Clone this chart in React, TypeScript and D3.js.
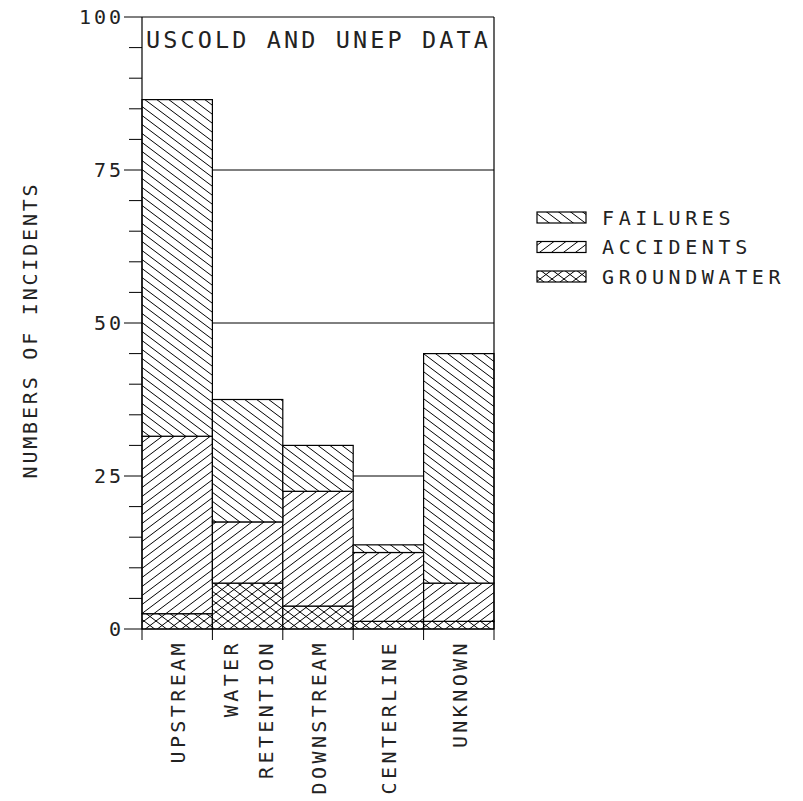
import React from "react";
import * as d3 from "d3";

const categories: string[][] = [["UPSTREAM"], ["WATER", "RETENTION"], ["DOWNSTREAM"], ["CENTERLINE"], ["UNKNOWN"]];
const groundwater = [2.5, 7.5, 3.75, 1.25, 1.25];
const accidents = [29, 10, 18.75, 11.25, 6.25];
const failures = [55, 20, 7.5, 1.25, 37.5];
const seriesKeys = ["groundwater", "accidents", "failures"];
const legendLabels = ["FAILURES", "ACCIDENTS", "GROUNDWATER"];
const legendKeys = ["failures", "accidents", "groundwater"];
const majorTicks = [0, 25, 50, 75, 100];
const gridValues = [25, 50, 75];
const title = "USCOLD AND UNEP DATA";
const yLabel = "NUMBERS OF INCIDENTS";

const FONT = "'DejaVu Sans Mono', monospace";
const TXT = "#222";

export default function App() {
  const W = 803, H = 801;
  const left = 142, right = 494, top = 17, bottom = 629;
  const y = d3.scaleLinear().domain([0, 100]).range([bottom, top]);
  const idx = categories.map((_, i) => i);
  const x = d3.scaleBand<number>().domain(idx).range([left, right]).padding(0);
  const rows = idx.map((i) => ({ groundwater: groundwater[i], accidents: accidents[i], failures: failures[i] }));
  const stacked = d3.stack<any>().keys(seriesKeys)(rows);
  const minor = d3.range(0, 101, 5);
  const fs = 20;
  const ls = 3;

  const patFill: Record<string, string> = {
    failures: "url(#patF)",
    accidents: "url(#patA)",
    groundwater: "url(#patG)",
  };

  const back = "M0,0L12,9 M-2,7.5L2,10.5 M10,-1.5L14,1.5";
  const fwd = "M0,9L12,0 M-2,1.5L2,-1.5 M10,10.5L14,7.5";

  return (
    <svg width={W} height={H} style={{ position: "absolute", left: 0, top: 0, background: "#fff" }}>
      <defs>
        <pattern id="patF" patternUnits="userSpaceOnUse" width={12} height={9}>
          <rect width={12} height={9} fill="#fff" />
          <path d={back} stroke="#000" strokeWidth={1} fill="none" />
        </pattern>
        <pattern id="patA" patternUnits="userSpaceOnUse" width={12} height={9}>
          <rect width={12} height={9} fill="#fff" />
          <path d={fwd} stroke="#000" strokeWidth={1} fill="none" />
        </pattern>
        <pattern id="patG" patternUnits="userSpaceOnUse" width={12} height={9}>
          <rect width={12} height={9} fill="#fff" />
          <path d={back} stroke="#000" strokeWidth={1} fill="none" />
          <path d={fwd} stroke="#000" strokeWidth={1} fill="none" />
        </pattern>
      </defs>

      {gridValues.map((v) => (
        <line key={"g" + v} x1={left} x2={right} y1={y(v)} y2={y(v)} stroke="#000" strokeWidth={1} />
      ))}

      {stacked.map((s) => (
        <g key={s.key}>
          {s.map((d, i) => (
            <rect
              key={i}
              x={x(i)!}
              width={x.bandwidth()}
              y={y(d[1])}
              height={y(d[0]) - y(d[1])}
              fill={patFill[s.key]}
              stroke="#000"
              strokeWidth={1.2}
            />
          ))}
        </g>
      ))}

      <line x1={left} x2={left} y1={top} y2={bottom} stroke="#000" strokeWidth={1.2} />
      <line x1={right} x2={right} y1={top} y2={bottom} stroke="#000" strokeWidth={1.2} />
      <line x1={left} x2={right} y1={top} y2={top} stroke="#000" strokeWidth={1.2} />
      <line x1={left} x2={right} y1={bottom} y2={bottom} stroke="#000" strokeWidth={1.2} />

      {minor.map((v) => (
        <line
          key={"t" + v}
          x1={majorTicks.includes(v) ? left - 18 : left - 13}
          x2={left}
          y1={y(v)}
          y2={y(v)}
          stroke="#000"
          strokeWidth={1}
        />
      ))}
      {majorTicks.map((v) => (
        <text
          key={"l" + v}
          x={121 + ls}
          y={y(v) + 7}
          textAnchor="end"
          fontFamily={FONT}
          fontSize={fs}
          letterSpacing={ls}
          fill={TXT}
        >
          {v}
        </text>
      ))}

      {idx.concat([idx.length]).map((i) => {
        const xx = i < idx.length ? x(i)! : right;
        return <line key={"b" + i} x1={xx} x2={xx} y1={bottom} y2={bottom + 11} stroke="#000" strokeWidth={1} />;
      })}

      {categories.map((lines, i) => {
        const cx = x(i)! + x.bandwidth() / 2;
        const n = lines.length;
        return lines.map((t, j) => {
          const bx = cx + 8 + (j - (n - 1) / 2) * 35;
          return (
            <text
              key={"c" + i + j}
              transform={`translate(${bx},${643 - ls}) rotate(-90)`}
              textAnchor="end"
              fontFamily={FONT}
              fontSize={fs}
              letterSpacing={ls + 0.4}
              fill={TXT}
            >
              {t}
            </text>
          );
        });
      })}

      <text
        transform={`translate(37,330) rotate(-90)`}
        textAnchor="middle"
        fontFamily={FONT}
        fontSize={fs}
        letterSpacing={ls - 0.2}
        fill={TXT}
      >
        {yLabel}
      </text>

      <text x={146} y={48} fontFamily={FONT} fontSize={23.5} letterSpacing={3.1} fill={TXT}>
        {title}
      </text>

      {legendKeys.map((k, i) => {
        const yy = 212 + i * 29.5;
        return (
          <g key={"lg" + k}>
            <rect x={537} y={yy} width={49} height={11} fill={patFill[k]} stroke="#000" strokeWidth={1.2} />
            <text x={602} y={yy + 12.5} fontFamily={FONT} fontSize={fs} letterSpacing={4.6} fill={TXT}>
              {legendLabels[i]}
            </text>
          </g>
        );
      })}
    </svg>
  );
}
